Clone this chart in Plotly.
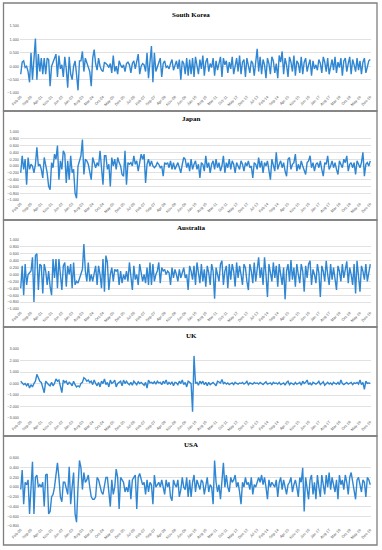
import plotly.graph_objects as go
import pandas as pd

# Monthly categories Feb-2000 .. Dec-2019
months = [d.strftime("%b-%y") for d in pd.date_range("2000-02-01", "2019-12-01", freq="MS")]
tick_labels = months[::7]

countries = ["South Korea", "Japan", "Australia", "UK", "USA"]

south_korea = [
    -0.30, 0.15, 0.20, -0.05, 0.00, -0.20, -0.60, 0.50, -0.50, 0.40, 1.03,
    -0.50, 0.45, -0.20, 0.30, -0.30, 0.30, -0.30, 0.30, 0.25, -0.75, 0.00, 0.20,
    0.30, 0.45, -0.40, 0.40, -0.10, 0.05, -0.40, 0.35, -0.10, -0.80, 0.35, -0.30,
    -0.50, 0.00, 0.20, -0.30, -0.90, 0.20, 0.20, 0.55, -0.20, 0.30, 0.10, -0.10,
    -0.20, -0.75, 0.30, 0.62, 0.10, -0.15, 0.30, 0.00, -0.15, -0.20, 0.15, 0.10,
    0.05, -0.05, 0.10, -0.25, 0.40, -0.20, 0.00, -0.30, 0.20, 0.05, -0.05, 0.05,
    -0.20, 0.10, 0.15, 0.05, -0.25, 0.10, 0.20, -0.10, 0.15, 0.45, -0.30, 0.00,
    0.10, 0.05, -0.20, 0.50, -0.45, 0.10, 0.75, -0.60, 0.50, -0.20, 0.00, 0.10,
    0.30, -0.40, 0.10, 0.20, -0.05, 0.00, -0.10, 0.10, 0.25, -0.15, 0.05, 0.20,
    -0.10, 0.25, -0.50, 0.20, 0.10, -0.30, 0.30, -0.35, 0.25, -0.30, 0.30, -0.40,
    0.35, 0.05, -0.30, 0.25, -0.10, 0.40, -0.35, 0.15, 0.30, -0.20, 0.10, -0.05,
    0.30, -0.35, 0.20, -0.15, 0.10, 0.35, -0.40, 0.30, 0.05, 0.20, -0.25, 0.15,
    -0.10, 0.35, -0.30, 0.00, 0.30, -0.20, 0.40, -0.30, 0.15, 0.25, -0.40, 0.30,
    0.05, -0.25, 0.20, 0.10, -0.35, 0.30, 0.65, -0.20, 0.35, -0.30, 0.25, 0.05,
    -0.45, 0.30, 0.10, -0.30, 0.35, 0.20, -0.25, 0.10, -0.45, 0.40, 0.15, 0.55,
    -0.30, 0.30, 0.05, -0.40, 0.35, 0.15, -0.20, 0.40, -0.35, 0.20, 0.10, -0.25,
    0.35, -0.30, 0.15, 0.30, -0.20, 0.05, 0.25, -0.35, 0.20, -0.10, 0.05, -0.15,
    0.25, 0.10, -0.25, 0.35, 0.15, -0.20, 0.30, -0.30, 0.05, 0.25, -0.15, 0.35,
    -0.25, 0.15, -0.05, 0.30, -0.35, 0.20, 0.30, -0.20, 0.10, 0.35, -0.30, 0.25,
    0.05, -0.20, 0.30, -0.15, 0.20, -0.30, 0.15, 0.30, -0.25, 0.05, 0.20, 0.25,
]

japan = [
    -0.20, 0.30, -0.10, 0.20, -0.55, 0.25, -0.10, 0.05, 0.00, -0.20, 0.05,
    0.55, 0.00, 0.05, -0.10, -0.35, 0.25, 0.00, -0.20, -0.60, -0.70, 0.10, -0.05,
    0.35, 0.20, 0.60, -0.40, 0.15, -0.10, 0.45, 0.35, -0.50, 0.15, -0.40, 0.30,
    -0.20, -0.10, -0.80, -0.95, 0.00, 0.15, 0.30, 0.78, -0.25, 0.20, 0.15, 0.05,
    -0.20, -0.40, 0.25, 0.10, -0.05, 0.10, 0.00, 0.45, -0.10, -0.55, 0.30, 0.30,
    -0.10, 0.05, -0.60, 0.25, 0.00, 0.20, -0.10, 0.25, 0.10, 0.00, -0.25, -0.30,
    0.45, -0.55, 0.10, 0.05, 0.10, 0.00, 0.30, 0.05, 0.15, -0.15, 0.10, 0.35,
    0.20, 0.35, -0.50, 0.05, 0.20, 0.00, 0.15, 0.00, -0.05, 0.00, 0.10, 0.05,
    -0.05, 0.00, -0.30, 0.10, 0.05, 0.10, -0.05, 0.15, -0.10, 0.10, -0.10, 0.00,
    0.10, -0.05, -0.20, 0.05, 0.25, 0.20, -0.05, 0.10, -0.15, 0.20, -0.10, 0.05,
    0.15, -0.10, 0.05, -0.35, 0.10, 0.05, -0.15, 0.30, -0.05, 0.10, -0.20, 0.05,
    0.15, -0.10, 0.20, -0.05, 0.10, -0.15, 0.00, 0.30, -0.20, 0.10, -0.05, 0.20,
    -0.10, 0.15, 0.05, -0.20, 0.10, 0.00, -0.10, 0.15, 0.05, -0.15, 0.10, 0.00,
    0.15, -0.05, 0.00, -0.35, 0.10, 0.05, -0.10, 0.25, -0.05, 0.15, -0.20, 0.10,
    0.00, 0.15, -0.10, -0.40, 0.20, 0.05, -0.15, 0.40, -0.10, 0.05, 0.15, -0.05,
    0.10, -0.15, -0.30, 0.20, 0.25, -0.10, 0.05, 0.10, 0.35, -0.15, 0.05, -0.10,
    0.15, 0.00, -0.10, -0.25, 0.10, 0.15, 0.30, -0.05, 0.10, -0.15, 0.05, 0.10,
    -0.05, 0.15, -0.10, -0.30, 0.10, 0.05, 0.30, -0.10, 0.00, 0.15, -0.05, 0.10,
    -0.10, -0.25, 0.15, 0.05, -0.05, 0.20, 0.10, 0.30, -0.15, 0.05, 0.10, -0.05,
    0.10, -0.25, 0.15, 0.05, -0.05, 0.10, 0.40, -0.30, 0.05, 0.10, 0.00, 0.15,
]

australia = [
    -0.40, 0.25, -0.60, 0.30, -0.30, 0.00, 0.05, 0.10, 0.50, -0.80, 0.55,
    0.60, -0.45, 0.30, 0.25, -0.55, 0.30, 0.10, -0.30, 0.10, -0.35, -0.60, 0.45,
    -0.10, 0.45, -0.40, 0.45, 0.00, -0.45, 0.25, 0.35, -0.35, 0.25, 0.00, 0.30,
    -0.40, 0.35, -0.30, -0.20, -0.25, -0.10, 0.00, 0.15, 0.88, 0.10, -0.20, 0.35,
    -0.20, 0.00, -0.20, 0.05, 0.25, -0.30, 0.25, 0.00, -0.40, 0.45, -0.50, 0.55,
    0.35, -0.45, 0.00, 0.20, -0.20, 0.15, 0.10, 0.15, -0.30, 0.10, -0.25, 0.00,
    -0.15, 0.10, -0.20, 0.35, 0.00, -0.45, 0.25, -0.15, 0.00, -0.30, 0.30, 0.10,
    -0.20, 0.00, -0.25, 0.20, -0.30, 0.35, -0.30, 0.30, -0.20, 0.00, 0.10, 0.35,
    -0.25, 0.20, 0.10, 0.15, 0.00, 0.10, 0.05, -0.30, 0.20, -0.10, 0.15, 0.00,
    -0.20, 0.15, -0.10, 0.05, 0.20, -0.10, 0.00, -0.45, 0.25, 0.10, -0.15, 0.25,
    -0.30, 0.35, 0.00, -0.25, 0.30, -0.20, 0.15, -0.35, 0.25, 0.05, -0.30, 0.30,
    0.10, -0.70, 0.20, 0.00, -0.20, 0.30, 0.40, -0.30, 0.10, 0.25, -0.40, 0.30,
    -0.15, 0.30, 0.10, -0.35, 0.35, -0.10, 0.25, 0.00, -0.30, 0.30, 0.20, -0.20,
    -0.45, 0.30, 0.10, -0.25, 0.35, -0.20, 0.15, 0.50, -0.10, 0.20, -0.30, 0.50,
    0.00, -0.65, 0.30, 0.10, -0.20, 0.35, -0.10, 0.25, -0.35, 0.30, 0.05, -0.30,
    0.20, -0.72, 0.10, 0.30, -0.20, 0.42, -0.15, 0.20, -0.35, 0.30, 0.00, -0.25,
    0.30, 0.10, -0.50, 0.25, -0.10, 0.30, 0.40, -0.30, 0.15, 0.00, -0.25, 0.30,
    0.05, -0.65, 0.25, 0.10, -0.20, 0.40, 0.00, -0.30, 0.30, -0.15, 0.20, -0.10,
    -0.45, 0.25, 0.10, -0.20, 0.30, -0.10, 0.15, 0.38, -0.25, 0.20, 0.00, -0.30,
    0.30, -0.55, 0.40, -0.20, -0.50, 0.25, 0.10, -0.15, 0.30, -0.20, 0.05, 0.30,
]

uk = [
    0.20, 0.05, -0.10, 0.00, -0.20, 0.00, -0.40, -0.10, -0.30, 0.00, 0.20,
    0.80, 0.40, 0.20, 0.10, -0.30, -0.80, 0.20, 0.00, -0.10, -0.20, 0.10, -0.20,
    0.00, 0.40, 0.20, 0.30, -0.20, -0.80, 0.30, 0.10, 0.20, -0.10, 0.10, 0.00,
    -0.20, 0.20, -0.10, -0.30, -0.20, -0.30, 0.00, 0.10, 0.50, 0.40, 0.20, 0.30,
    0.10, 0.20, -0.10, 0.30, 0.00, -0.20, 0.10, -0.30, 0.20, 0.00, 0.40, -0.10,
    0.10, -0.30, 0.30, 0.00, 0.10, 0.30, -0.30, 0.00, 0.10, 0.20, -0.20, 0.30,
    0.00, 0.20, 0.00, -0.10, 0.10, -0.15, 0.20, 0.05, -0.10, 0.15, 0.00, 0.10,
    -0.05, -0.15, 0.10, -0.40, 0.30, 0.05, 0.10, 0.00, 0.15, -0.05, 0.20, 0.05,
    0.10, -0.10, 0.20, 0.00, 0.30, -0.10, 0.10, -0.05, 0.15, -0.20, 0.10, 0.05,
    -0.10, 0.20, 0.00, 0.30, -0.10, 0.10, -0.30, 0.20, 0.10, 0.00, -2.45, 2.40,
    0.00, 0.10, -0.15, 0.20, 0.00, 0.20, -0.10, 0.10, -0.20, 0.10, -0.10, 0.00,
    0.10, -0.05, -0.20, 0.20, 0.10, 0.05, 0.35, 0.00, 0.10, -0.05, 0.05, -0.10,
    0.00, 0.05, -0.10, 0.10, 0.00, -0.05, 0.05, 0.00, 0.10, -0.05, 0.05, 0.20,
    -0.10, 0.05, 0.00, -0.05, 0.10, 0.00, 0.05, -0.05, 0.10, 0.00, -0.10, 0.05,
    0.15, -0.05, 0.00, 0.05, -0.10, 0.10, 0.00, 0.05, -0.05, 0.10, -0.10, 0.00,
    0.05, -0.15, 0.10, 0.20, -0.10, 0.05, 0.00, -0.10, 0.10, -0.05, 0.00, 0.10,
    -0.15, 0.20, 0.00, 0.10, 0.30, -0.10, 0.05, -0.15, 0.10, 0.00, -0.05, 0.05,
    0.20, -0.10, 0.05, 0.15, -0.15, 0.00, 0.10, -0.05, 0.05, -0.10, 0.10, 0.00,
    -0.05, 0.10, -0.10, 0.30, 0.00, -0.10, 0.05, 0.10, -0.05, 0.00, 0.10, -0.10,
    0.05, 0.00, 0.10, -0.05, 0.30, -0.10, 0.10, -0.50, 0.20, 0.00, 0.05, 0.00,
]

usa = [
    -0.05, 0.35, -0.35, 0.10, 0.05, 0.15, -0.55, 0.00, 0.52, -0.55, 0.20,
    0.25, 0.00, 0.05, 0.00, 0.10, -0.40, 0.25, 0.27, -0.55, -0.50, -0.20, -0.15,
    0.00, 0.27, 0.50, 0.20, -0.20, -0.30, 0.10, 0.10, 0.00, -0.15, 0.42, -0.35,
    0.00, 0.30, -0.55, -0.72, 0.00, 0.55, 0.40, -0.05, 0.30, 0.10, 0.15, 0.25,
    0.00, -0.20, -0.25, -0.25, -0.20, 0.20, 0.15, 0.00, -0.10, -0.15, 0.00, 0.20,
    0.20, -0.15, -0.40, 0.15, -0.15, 0.00, 0.37, 0.20, -0.45, 0.20, 0.15, 0.10,
    -0.10, 0.00, -0.10, 0.15, -0.25, 0.15, 0.20, 0.25, -0.45, 0.20, 0.28, 0.15,
    0.05, 0.10, -0.15, 0.15, -0.10, 0.10, 0.05, -0.35, 0.25, 0.00, 0.05, 0.10,
    0.00, 0.15, 0.00, -0.15, 0.15, 0.00, 0.10, -0.20, -0.28, 0.15, 0.05, 0.00,
    0.15, -0.20, -0.05, 0.20, 0.00, -0.05, 0.20, -0.20, 0.15, -0.20, 0.10, 0.25,
    -0.10, 0.15, 0.05, -0.05, 0.15, 0.10, -0.15, 0.00, 0.20, -0.10, 0.05, 0.00,
    -0.35, 0.55, 0.10, -0.10, 0.05, -0.25, 0.15, 0.50, 0.00, 0.25, 0.00, -0.10,
    0.20, 0.10, 0.15, 0.25, 0.00, 0.10, -0.10, -0.35, 0.10, 0.00, 0.20, 0.05,
    0.10, -0.05, 0.20, -0.15, 0.05, 0.00, 0.10, 0.20, 0.10, 0.25, 0.05, 0.20,
    0.00, -0.25, 0.15, 0.00, 0.10, 0.05, 0.00, 0.15, -0.20, 0.10, 0.20, -0.05,
    0.15, 0.00, -0.15, 0.05, 0.10, 0.20, -0.10, 0.05, 0.15, 0.00, -0.20, 0.20,
    0.10, 0.40, -0.50, 0.20, 0.00, -0.25, 0.15, 0.25, -0.15, 0.10, -0.25, 0.25,
    0.00, -0.20, 0.25, 0.05, -0.15, 0.25, 0.00, 0.30, -0.05, 0.20, 0.00, -0.10,
    0.15, -0.25, 0.25, 0.05, 0.15, -0.05, 0.25, 0.10, -0.15, 0.20, 0.30, 0.10,
    -0.10, -0.25, 0.15, 0.20, 0.05, -0.10, 0.15, 0.10, -0.20, 0.20, 0.15, 0.05,
]

series = [south_korea, japan, australia, uk, usa]
y_ranges = [(-1.0, 1.5), (-1.0, 1.0), (-1.0, 1.0), (-3.0, 3.0), (-0.8, 0.6)]
y_dtick = [0.5, 0.2, 0.2, 1.0, 0.2]

W, H = 382, 550
# pixel geometry: (box_top, box_bottom, title_y, plot_top, plot_bottom)
panels = [
    (3, 111, 15, 26, 93),
    (111, 220, 119, 132, 200),
    (220, 327, 228, 240, 309),
    (327, 436, 336, 349, 418),
    (436, 545, 445, 458, 526),
]
px_left, px_right = 20, 371
line_color = "#2F86D2"
grid_color = "#D9D9D9"
tick_font = dict(family="Liberation Sans", size=3.8, color="#595959")

fig = go.Figure()
shapes = []
annotations = []
layout = {}
for i, (name, vals, (ymin, ymax), dt, geo) in enumerate(zip(countries, series, y_ranges, y_dtick, panels)):
    n = i + 1
    xa = "x" if n == 1 else f"x{n}"
    ya = "y" if n == 1 else f"y{n}"
    x_cat = months[:len(vals)]
    fig.add_trace(go.Scatter(x=x_cat, y=vals, mode="lines", xaxis=xa, yaxis=ya,
                             line=dict(color=line_color, width=1.4), showlegend=False,
                             hoverinfo="skip"))
    box_top, box_bot, title_y, p_top, p_bot = geo
    layout[f"xaxis{'' if n == 1 else n}"] = dict(
        domain=[px_left / W, px_right / W], anchor=ya, type="category",
        categoryorder="array", categoryarray=months,
        tickmode="array", tickvals=tick_labels, ticktext=tick_labels,
        tickangle=-45, tickfont=tick_font, showgrid=False, zeroline=False,
        showline=False, ticks="", ticklen=0, range=[-0.5, len(months) - 0.5],
        automargin=False,
    )
    layout[f"yaxis{'' if n == 1 else n}"] = dict(
        domain=[1 - p_bot / H, 1 - p_top / H], anchor=xa, range=[ymin, ymax],
        tick0=ymin, dtick=dt, tickformat=".3f", tickfont=tick_font,
        showgrid=True, gridcolor=grid_color, gridwidth=0.8, zeroline=False,
        showline=False, ticks="", ticklen=0, automargin=False,
    )
    annotations.append(dict(text=f"<b>{name}</b>", x=0.5, y=1 - title_y / H,
                            xref="paper", yref="paper", showarrow=False,
                            xanchor="center", yanchor="middle",
                            font=dict(family="Liberation Serif", size=7, color="#000000")))
    shapes.append(dict(type="rect", xref="paper", yref="paper",
                       x0=3.5 / W, x1=377 / W, y0=1 - box_bot / H, y1=1 - box_top / H,
                       line=dict(color="#7F7F7F", width=1.3), fillcolor="rgba(0,0,0,0)"))

fig.update_layout(
    width=W, height=H, margin=dict(l=0, r=0, t=0, b=0),
    paper_bgcolor="white", plot_bgcolor="white",
    shapes=shapes, annotations=annotations, **layout,
)
fig.write_html("out.html", config={"displayModeBar": False, "staticPlot": True},
               post_script="document.body.style.margin='0';")
